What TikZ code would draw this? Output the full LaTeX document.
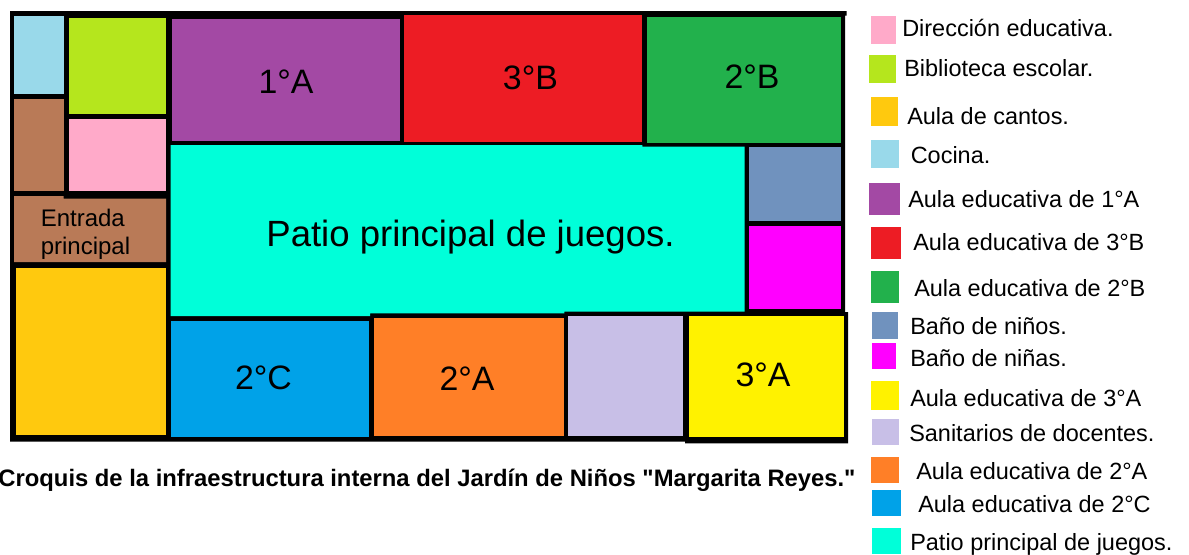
\documentclass[tikz,border=0pt]{standalone}
\usepackage{fontspec}
\setmainfont{Liberation Sans}
% sin ligaduras TeX, para que las comillas queden rectas
\newfontfamily\rectafont{Liberation Sans}
\definecolor{cocina}{RGB}{153,217,234}
\definecolor{biblio}{RGB}{181,230,29}
\definecolor{direc}{RGB}{255,170,201}
\definecolor{entrada}{RGB}{185,122,87}
\definecolor{cantos}{RGB}{255,201,14}
\definecolor{morado}{RGB}{163,73,164}
\definecolor{rojo}{RGB}{237,28,36}
\definecolor{verde}{RGB}{34,177,76}
\definecolor{patio}{RGB}{0,255,217}
\definecolor{ninos}{RGB}{112,146,190}
\definecolor{ninas}{RGB}{255,0,255}
\definecolor{amarillo}{RGB}{255,242,0}
\definecolor{lila}{RGB}{200,191,231}
\definecolor{naranja}{RGB}{255,127,39}
\definecolor{azul}{RGB}{0,162,232}
\tikzset{
    sala/.style={font=\fontsize{25.4}{25.4}\selectfont,inner sep=0pt,anchor=base},
    ley/.style={font=\fontsize{17.6}{17.6}\selectfont,anchor=base west,inner sep=0pt}
}
\begin{document}
\begin{tikzpicture}[line cap=butt,line join=miter,x=0.75pt,y=-0.75pt]
    \useasboundingbox (0,0) rectangle (1189,554);
    
    % muros
    \fill [black] (10,11) -- (846.7,11) -- (846.7,15.7) -- (845,15.7) -- (845,312) -- (848,312) -- (848,443.3) -- (685,443.3) -- (685,441.7) -- (10,441.7) -- cycle;
    
    % salones
    \fill [cocina] (14,15.5) rectangle (63.5,94);
    \fill [entrada] (14,99) rectangle (63.5,190.5);
    \fill [biblio] (68.5,17.5) rectangle (166,113.5);
    \fill [direc] (68.5,118.5) rectangle (166,190.5);
    \fill [entrada] (14,196) -- (63.5,196) -- (63.5,198.5) -- (166,198.5) -- (166,262) -- (14,262) -- cycle;
    \fill [cantos] (15.5,268) rectangle (166,435);
    \fill [morado] (172,18.5) rectangle (400,141);
    \fill [rojo] (404.3,15) rectangle (642.3,141.7);
    \fill [verde] (646.7,16.7) rectangle (841,142.7);
    \fill [patio] (170.5,145) -- (642.3,145) -- (642.3,146.7) -- (744.5,146.7) -- (744.5,311.7) -- (564.3,311.7) -- (564.3,313.3) -- (370,313.3) -- (370,316) -- (170.5,316) -- cycle;
    \fill [ninos] (749,147.3) rectangle (841,221);
    \fill [ninas] (749,225.7) rectangle (841,309);
    \fill [amarillo] (689,316) rectangle (843.7,437);
    \fill [lila] (568.3,316) rectangle (683.3,435.7);
    \fill [naranja] (374.3,317.7) rectangle (564.3,435.7);
    \fill [azul] (170.5,320.7) rectangle (369,437.3);
    
    % nombres
    \node [sala] (sala1A) at (286,93.3) {1°A};
    \node [sala] (sala3B) at (530.4,89.3) {3°B};
    \node [sala] (sala2B) at (752,88.3) {2°B};
    \node [sala] (sala2C) at (263.5,389) {2°C};
    \node [sala] (sala2A) at (467,390.7) {2°A};
    \node [sala] (sala3A) at (763,386) {3°A};
    \node [font=\fontsize{27.4}{27.4}\selectfont,inner sep=0pt,anchor=base] (patio) at (470.5,246) {Patio principal de juegos.};
    \node [font=\fontsize{18}{20.8}\selectfont,align=left,inner sep=0pt,anchor=west] (entrada) at (40.5,234) {Entrada\\principal};
    \node [font=\rectafont\bfseries\fontsize{17.85}{17.85}\selectfont,inner sep=0pt,anchor=base] (croquis) at (427,486) {Croquis de la infraestructura interna del Jardín de Niños "Margarita Reyes."};
    
    % leyenda
    \foreach \xa/\ya/\xb/\yb/\col/\xt/\yt/\txt in {
        870.7/15.7/896.3/44.3/direc/902/36.7/Dirección educativa.,
        869.3/55/896.3/83.3/biblio/904/76.7/Biblioteca escolar.,
        870.7/97.3/898/126/cantos/907/124.3/Aula de cantos.,
        870.7/139.7/899.3/168/cocina/910.5/163.3/Cocina.,
        869.3/183/899.7/215/morado/908/207.3/Aula educativa de 1°A,
        870.7/227.3/901/259/rojo/913/250/Aula educativa de 3°B,
        870.7/271/899.3/302.7/verde/914/296.7/Aula educativa de 2°B,
        872.3/311.7/897.7/339/ninos/910/334.3/Baño de niños.,
        872.3/343.3/896.3/369.3/ninas/910/366.7/Baño de niñas.,
        871/381.3/899.3/410/amarillo/910/406.7/Aula educativa de 3°A,
        872.3/419.3/899.3/444.7/lila/909/441.7/Sanitarios de docentes.,
        870.7/457/899.3/482.7/naranja/916/479/Aula educativa de 2°A,
        872.3/490/901/516/azul/918/512.3/Aula educativa de 2°C,
        872.3/528/901/554/patio/910/550/Patio principal de juegos.}
    {
        \fill [\col] (\xa,\ya) rectangle (\xb,\yb);
        \node [ley] at (\xt,\yt) {\txt};
    }
\end{tikzpicture}
\end{document}
